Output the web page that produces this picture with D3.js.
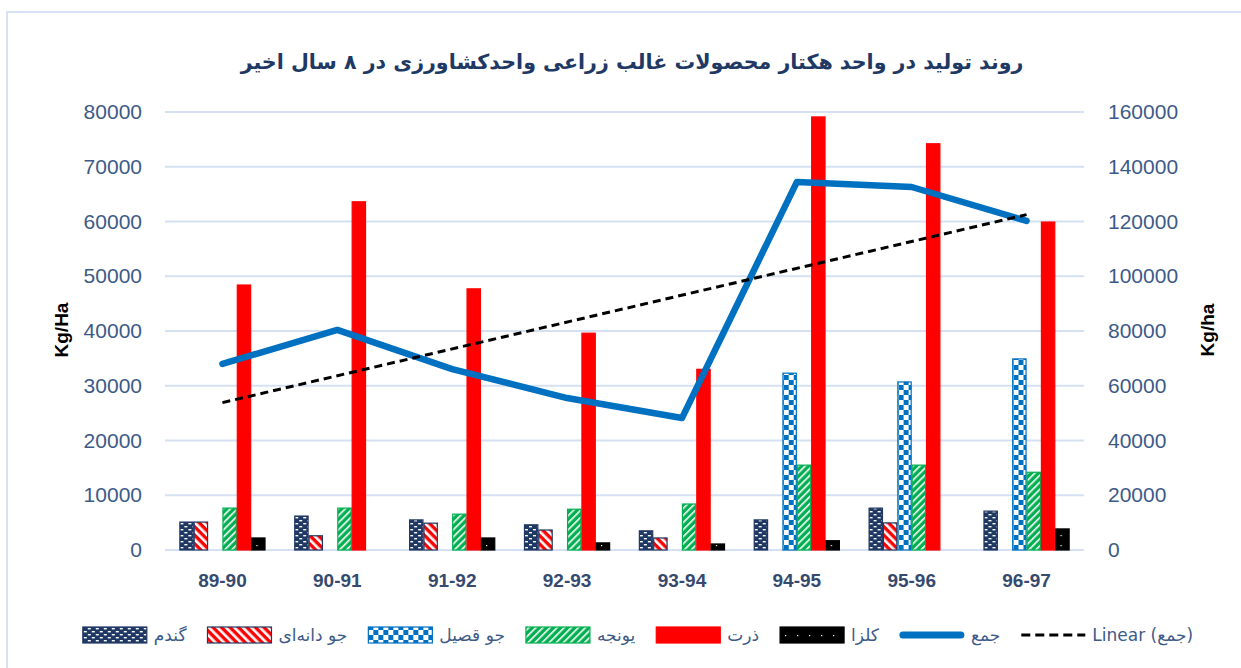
<!DOCTYPE html>
<html>
<head>
<meta charset="utf-8">
<script src="https://cdn.jsdelivr.net/npm/d3@7"></script>
<style>
  html, body { margin: 0; padding: 0; background: #fff; }
  svg { display: block; }
</style>
</head>
<body>
<div id="chart"></div>
<script>
// chart data
const years = ["89-90", "90-91", "91-92", "92-93", "93-94", "94-95", "95-96", "96-97"];
const wheat = [5100, 6200, 5500, 4600, 3500, 5500, 7650, 7100];
const barleyGrain = [5100, 2600, 4900, 3650, 2200, 0, 4950, 0];
const barleyForage = [0, 0, 0, 0, 0, 32300, 30700, 34900];
const alfalfa = [7650, 7650, 6550, 7450, 8400, 15500, 15500, 14200];
const corn = [48400, 63600, 47700, 39600, 33000, 79100, 74200, 59900];
const canola = [2200, 0, 2200, 1300, 1100, 1700, 0, 3850];
const total = [68000, 80400, 66100, 55500, 48200, 134400, 132600, 120200];
const leftTicks = [0, 10000, 20000, 30000, 40000, 50000, 60000, 70000, 80000];
const rightTicks = [0, 20000, 40000, 60000, 80000, 100000, 120000, 140000, 160000];
const titleText = "روند تولید در واحد هکتار محصولات غالب زراعی واحدکشاورزی در ۸ سال اخیر";
const seriesNames = ["گندم", "جو دانه‌ای", "جو قصیل", "یونجه", "ذرت", "کلزا"];
const lineName = "جمع";
const trendName = "Linear (جمع)";

const CHART = {
    width: 1241,
    height: 668,
    plot: {left: 165, right: 1084, top: 112, bottom: 550},
    tickColor: "#3D5A87",
    gridColor: "#D5E1F2",
    arabicFont: "'DejaVu Sans', 'Noto Sans', sans-serif",
    latinFont: "'Liberation Sans', Arial, sans-serif"
};

const svg = d3.select("#chart").append("svg")
    .attr("width", CHART.width)
    .attr("height", CHART.height);

const defs = svg.append("defs");

//pattern fills like the excel ones
function stripePattern(id, bg, fg, size, fgWidth, angle){
    const p = defs.append("pattern")
        .attr("id", id)
        .attr("patternUnits", "userSpaceOnUse")
        .attr("width", size).attr("height", size)
        .attr("patternTransform", `rotate(${angle})`);
    p.append("rect").attr("width", size).attr("height", size).attr("fill", bg);
    p.append("rect").attr("width", fgWidth).attr("height", size).attr("fill", fg);
}

const pWheat = defs.append("pattern")
    .attr("id", "pWheat").attr("patternUnits", "userSpaceOnUse")
    .attr("width", 8).attr("height", 6);
pWheat.append("rect").attr("width", 8).attr("height", 6).attr("fill", "#203864");
pWheat.append("rect").attr("x", 1).attr("y", 1).attr("width", 3).attr("height", 1.4).attr("fill", "#fff");
pWheat.append("rect").attr("x", 5).attr("y", 4).attr("width", 3).attr("height", 1.4).attr("fill", "#fff");

stripePattern("pBarley", "#FF0000", "#fff", 6, 2.6, -45);
stripePattern("pAlfalfa", "#00B050", "#fff", 5, 1.6, 45);

const pCheck = defs.append("pattern")
    .attr("id", "pCheck").attr("patternUnits", "userSpaceOnUse")
    .attr("width", 10).attr("height", 10);
pCheck.append("rect").attr("width", 10).attr("height", 10).attr("fill", "#0070C0");
pCheck.append("rect").attr("width", 5).attr("height", 5).attr("fill", "#fff");
pCheck.append("rect").attr("x", 5).attr("y", 5).attr("width", 5).attr("height", 5).attr("fill", "#fff");

const pCanola = defs.append("pattern")
    .attr("id", "pCanola").attr("patternUnits", "userSpaceOnUse")
    .attr("width", 12).attr("height", 10);
pCanola.append("rect").attr("width", 12).attr("height", 10).attr("fill", "#000");
pCanola.append("rect").attr("x", 5).attr("y", 5).attr("width", 1.2).attr("height", 1.2).attr("fill", "#fff");

const series = [
    {name: seriesNames[0], values: wheat, fill: "url(#pWheat)", stroke: "#203864"},
    {name: seriesNames[1], values: barleyGrain, fill: "url(#pBarley)", stroke: "#203864"},
    {name: seriesNames[2], values: barleyForage, fill: "url(#pCheck)", stroke: "#0070C0"},
    {name: seriesNames[3], values: alfalfa, fill: "url(#pAlfalfa)", stroke: "#00B050"},
    {name: seriesNames[4], values: corn, fill: "#FF0000", stroke: "#FF0000"},
    {name: seriesNames[5], values: canola, fill: "url(#pCanola)", stroke: "#000"}
];

//frame round the chart
svg.append("rect")
    .attr("x", 7).attr("y", 12)
    .attr("width", 1300).attr("height", 700)
    .attr("fill", "none")
    .attr("stroke", "#D6E3F4")
    .attr("stroke-width", 2);

/* scales */
const x0 = d3.scaleBand()
    .domain(years)
    .range([CHART.plot.left, CHART.plot.right])
    .padding(0);

const groupWidth = x0.bandwidth() * 0.75;
const x1 = d3.scaleBand()
    .domain(d3.range(series.length))
    .range([0, groupWidth])
    .padding(0);

const yLeft = d3.scaleLinear()
    .domain([0, 80000])
    .range([CHART.plot.bottom, CHART.plot.top]);

const yRight = d3.scaleLinear()
    .domain([0, 160000])
    .range([CHART.plot.bottom, CHART.plot.top]);

//gridlines
svg.append("g")
    .selectAll("line")
    .data(leftTicks)
    .join("line")
    .attr("x1", CHART.plot.left)
    .attr("x2", CHART.plot.right)
    .attr("y1", d => yLeft(d))
    .attr("y2", d => yLeft(d))
    .attr("stroke", CHART.gridColor)
    .attr("stroke-width", 2);

//left axis
const leftAxis = svg.append("g")
    .attr("transform", `translate(${CHART.plot.left - 23},0)`)
    .call(d3.axisLeft(yLeft).tickValues(leftTicks).tickSize(0).tickPadding(0).tickFormat(d3.format("d")));
leftAxis.select(".domain").remove();
leftAxis.selectAll("text")
    .attr("fill", CHART.tickColor)
    .style("font-family", CHART.latinFont)
    .style("font-size", "21px");

//right axis
const rightAxis = svg.append("g")
    .attr("transform", `translate(${CHART.plot.right + 24},0)`)
    .call(d3.axisRight(yRight).tickValues(rightTicks).tickSize(0).tickPadding(0).tickFormat(d3.format("d")));
rightAxis.select(".domain").remove();
rightAxis.selectAll("text")
    .attr("fill", CHART.tickColor)
    .style("font-family", CHART.latinFont)
    .style("font-size", "21px");

//category axis
const xAxis = svg.append("g")
    .attr("transform", `translate(0,${CHART.plot.bottom + 20})`)
    .call(d3.axisBottom(x0).tickSize(0).tickPadding(0));
xAxis.select(".domain").remove();
xAxis.selectAll("text")
    .attr("fill", "#354A6E")
    .attr("dy", "0.9em")
    .style("font-family", CHART.latinFont)
    .style("font-weight", "bold")
    .style("font-size", "19px");

//bars
const groups = svg.append("g")
    .selectAll("g")
    .data(years)
    .join("g")
    .attr("transform", d => `translate(${x0(d) + (x0.bandwidth() - groupWidth) / 2},0)`);

groups.selectAll("rect")
    .data((d, i) => series.map((s, k) => ({k: k, v: s.values[i], fill: s.fill, stroke: s.stroke})).filter(b => b.v > 0))
    .join("rect")
    .attr("x", b => x1(b.k) + 0.5)
    .attr("y", b => yLeft(b.v))
    .attr("width", x1.bandwidth() - 1)
    .attr("height", b => yLeft(0) - yLeft(b.v))
    .attr("fill", b => b.fill)
    .attr("stroke", b => b.stroke)
    .attr("stroke-width", 1.2);

//trend line of the total, least squares
const xs = d3.range(total.length);
const mx = d3.mean(xs);
const my = d3.mean(total);
const slope = d3.sum(xs, i => (i - mx) * (total[i] - my)) / d3.sum(xs, i => (i - mx) * (i - mx));
const intercept = my - slope * mx;
const trend = [0, total.length - 1].map(i => ({year: years[i], v: intercept + slope * i}));

const cx = d => x0(d) + x0.bandwidth() / 2;

svg.append("path")
    .datum(total.map((v, i) => ({year: years[i], v: v})))
    .attr("fill", "none")
    .attr("stroke", "#0070C0")
    .attr("stroke-width", 6.5)
    .attr("stroke-linecap", "round")
    .attr("stroke-linejoin", "round")
    .attr("d", d3.line().x(d => cx(d.year)).y(d => yRight(d.v)));

svg.append("path")
    .datum(trend)
    .attr("fill", "none")
    .attr("stroke", "#000")
    .attr("stroke-width", 3)
    .attr("stroke-dasharray", "8,5")
    .attr("d", d3.line().x(d => cx(d.year)).y(d => yRight(d.v)));

//axis titles
svg.append("text")
    .attr("transform", "translate(68,330) rotate(-90)")
    .attr("text-anchor", "middle")
    .style("font-family", CHART.latinFont)
    .style("font-weight", "bold")
    .style("font-size", "19px")
    .attr("fill", "#000")
    .text("Kg/Ha");

svg.append("text")
    .attr("transform", "translate(1214,330) rotate(-90)")
    .attr("text-anchor", "middle")
    .style("font-family", CHART.latinFont)
    .style("font-weight", "bold")
    .style("font-size", "19px")
    .attr("fill", "#000")
    .text("Kg/ha");

//title, sized to the width it has in the picture
const title = svg.append("text")
    .attr("x", 632)
    .attr("y", 69)
    .attr("text-anchor", "middle")
    .attr("direction", "rtl")
    .style("font-family", CHART.arabicFont)
    .style("font-weight", "bold")
    .style("font-size", "22px")
    .attr("fill", "#203864")
    .text(titleText);
const titleW = title.node().getComputedTextLength();
title.style("font-size", (22 * 783 / titleW).toFixed(1) + "px");

//legend
const legendItems = series.map(s => ({name: s.name, type: "box", fill: s.fill, stroke: s.stroke}))
    .concat([
        {name: lineName, type: "line"},
        {name: trendName, type: "dash"}
    ]);

const legend = svg.append("g");
const legendY = 635;
const swatchW = 64;
let lx = 0;
legendItems.forEach(item => {
    const g = legend.append("g").attr("transform", `translate(${lx},0)`);
    if(item.type === "box"){
        g.append("rect")
            .attr("x", 0).attr("y", legendY - 8)
            .attr("width", swatchW).attr("height", 16)
            .attr("fill", item.fill)
            .attr("stroke", item.stroke)
            .attr("stroke-width", 1.2);
    } else if(item.type === "line"){
        g.append("line")
            .attr("x1", 3).attr("x2", swatchW - 3)
            .attr("y1", legendY).attr("y2", legendY)
            .attr("stroke", "#0070C0").attr("stroke-width", 7)
            .attr("stroke-linecap", "round");
    } else {
        g.append("line")
            .attr("x1", 0).attr("x2", swatchW)
            .attr("y1", legendY).attr("y2", legendY)
            .attr("stroke", "#000").attr("stroke-width", 3)
            .attr("stroke-dasharray", "9,5");
    }
    const t = g.append("text")
        .attr("x", swatchW + 7)
        .attr("y", legendY + 6)
        .style("font-family", CHART.arabicFont)
        .style("font-size", "17px")
        .attr("fill", "#3D5A87")
        .text(item.name);
    lx += swatchW + 7 + t.node().getComputedTextLength() + 21;
});
legend.attr("transform", `translate(${638 - (lx - 21) / 2},0)`);
</script>
</body>
</html>
